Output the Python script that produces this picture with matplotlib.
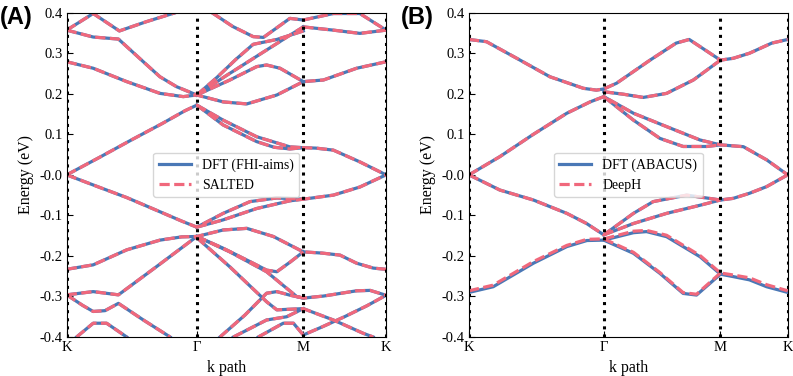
import matplotlib
matplotlib.use("Agg")
import matplotlib.pyplot as plt
import numpy as np

plt.rcParams['font.family'] = ['Liberation Serif', 'DejaVu Serif']

BLUE = '#4a78b6'
RED = '#f0687c'

# k-path labels and positions (fraction of path length)
K_LABELS = ['K', 'Γ', 'M', 'K']
A_TICKS = [0.0, 0.4075, 0.741, 1.0]
B_TICKS = [0.0, 0.423, 0.789, 1.0]

# ---- panel A bands (k, E in eV) : DFT (FHI-aims) / SALTED ----
a_cb1 = [(0, 0), (0.1, 0.042), (0.2, 0.085), (0.3, 0.127), (0.37, 0.158), (0.4075, 0.172),
         (0.49, 0.123), (0.595, 0.082), (0.65, 0.068), (0.699, 0.064), (0.741, 0.067),
         (0.78, 0.066), (0.835, 0.061), (0.918, 0.032), (1, 0)]
a_cb2 = [(0.4075, 0.172), (0.49, 0.135), (0.595, 0.094), (0.699, 0.069), (0.741, 0.067)]
a_vb1 = [(0, 0), (0.1, -0.03), (0.188, -0.056), (0.292, -0.091), (0.36, -0.114), (0.4075, -0.129),
         (0.49, -0.095), (0.574, -0.066), (0.658, -0.057), (0.741, -0.06),
         (0.835, -0.05), (0.918, -0.03), (1, 0)]
a_vb2 = [(0.4075, -0.129), (0.49, -0.111), (0.595, -0.083), (0.699, -0.064), (0.741, -0.06)]
a_vb3 = [(0, -0.233), (0.083, -0.222), (0.188, -0.185), (0.292, -0.161), (0.36, -0.153),
         (0.4075, -0.152), (0.49, -0.136), (0.564, -0.132), (0.647, -0.152), (0.741, -0.19),
         (0.8, -0.193), (0.856, -0.198), (0.908, -0.218), (0.96, -0.23), (1, -0.233)]
a_vb4 = [(0, -0.296), (0.083, -0.288), (0.162, -0.296), (0.282, -0.226), (0.4075, -0.152)]
a_g1 = [(0.4075, -0.152), (0.49, -0.181), (0.574, -0.214), (0.626, -0.235), (0.658, -0.239),
        (0.70, -0.215), (0.741, -0.19)]
a_g2 = [(0.4075, -0.152), (0.511, -0.19), (0.626, -0.239), (0.72, -0.3), (0.741, -0.304),
        (0.804, -0.299), (0.908, -0.286), (0.95, -0.285), (1, -0.297)]
a_g3 = [(0.4075, -0.155), (0.511, -0.227), (0.626, -0.313), (0.658, -0.333), (0.741, -0.33),
        (0.835, -0.358), (0.929, -0.391), (0.96, -0.4)]
a_g4 = [(0.48, -0.4), (0.558, -0.346), (0.626, -0.292), (0.658, -0.288), (0.7, -0.297), (0.741, -0.304)]
a_g5 = [(0.522, -0.4), (0.626, -0.358), (0.689, -0.35), (0.741, -0.33)]
a_g6 = [(0.6, -0.4), (0.678, -0.366), (0.71, -0.366), (0.741, -0.395),
        (0.8, -0.375), (0.87, -0.35), (0.94, -0.323), (1, -0.297)]
a_k4 = [(0, -0.296), (0.05, -0.322), (0.083, -0.337), (0.12, -0.335), (0.162, -0.317),
        (0.24, -0.358), (0.324, -0.4)]
a_k5 = [(0.031, -0.4), (0.083, -0.366), (0.125, -0.366), (0.188, -0.4)]
a_u1 = [(0, 0.279), (0.083, 0.263), (0.188, 0.23), (0.292, 0.201), (0.365, 0.193), (0.4075, 0.197),
        (0.49, 0.18), (0.564, 0.175), (0.658, 0.197), (0.741, 0.23), (0.804, 0.234),
        (0.908, 0.263), (1, 0.279)]
a_u2 = [(0, 0.357), (0.083, 0.34), (0.162, 0.335), (0.24, 0.279), (0.292, 0.242),
        (0.344, 0.2175), (0.4075, 0.197)]
a_u3 = [(0, 0.357), (0.083, 0.398), (0.165, 0.355), (0.25, 0.378), (0.34, 0.4)]
a_u5 = [(0.4075, 0.197), (0.511, 0.234), (0.595, 0.267), (0.626, 0.271), (0.668, 0.263), (0.741, 0.23)]
a_u6 = [(0.4075, 0.197), (0.5, 0.245), (0.6, 0.295), (0.7, 0.345), (0.741, 0.365)]
a_u7 = [(0.4075, 0.197), (0.47, 0.24), (0.53, 0.285), (0.584, 0.322), (0.658, 0.334), (0.741, 0.355)]
a_u8 = [(0.455, 0.4), (0.52, 0.366), (0.584, 0.341), (0.616, 0.339), (0.699, 0.386), (0.741, 0.382)]
a_u9 = [(0.741, 0.365), (0.835, 0.357), (0.918, 0.349), (1, 0.357)]
a_u10 = [(0.741, 0.382), (0.835, 0.398), (0.918, 0.398), (1, 0.357)]

A_BANDS = [a_cb1, a_cb2, a_vb1, a_vb2, a_vb3, a_vb4, a_g1, a_g2, a_g3, a_g4, a_g5, a_g6,
           a_k4, a_k5, a_u1, a_u2, a_u3, a_u5, a_u6, a_u7, a_u8, a_u9, a_u10]

# ---- panel B bands : DFT (ABACUS) ----
b_c1 = [(0, 0.334), (0.055, 0.3285), (0.15, 0.2875), (0.254, 0.242), (0.359, 0.2135), (0.4, 0.209),
        (0.423, 0.212), (0.463, 0.226), (0.568, 0.283), (0.65, 0.325), (0.691, 0.334),
        (0.789, 0.283), (0.829, 0.2875), (0.88, 0.3), (0.95, 0.325), (1, 0.334)]
b_c2 = [(0.423, 0.205), (0.484, 0.199), (0.547, 0.191), (0.62, 0.201), (0.704, 0.234), (0.789, 0.283)]
b_v1 = [(0, 0), (0.097, 0.045), (0.202, 0.1), (0.307, 0.152), (0.38, 0.18), (0.423, 0.193),
        (0.516, 0.152), (0.62, 0.119), (0.725, 0.086), (0.789, 0.074),
        (0.861, 0.0695), (0.934, 0.037), (1, 0)]
b_v2 = [(0.423, 0.193), (0.516, 0.135), (0.599, 0.09), (0.672, 0.07), (0.746, 0.07), (0.789, 0.074)]
b_v3 = [(0, 0), (0.097, -0.0375), (0.202, -0.062), (0.307, -0.095), (0.369, -0.12), (0.423, -0.148),
        (0.516, -0.095), (0.578, -0.066), (0.683, -0.05), (0.789, -0.062),
        (0.829, -0.058), (0.88, -0.0455), (0.934, -0.029), (1, 0)]
b_v4 = [(0.423, -0.148), (0.516, -0.12), (0.62, -0.095), (0.725, -0.075), (0.789, -0.062)]
b_v5 = [(0, -0.29), (0.076, -0.276), (0.202, -0.218), (0.307, -0.177), (0.37, -0.162), (0.423, -0.161),
        (0.516, -0.1427), (0.557, -0.14), (0.62, -0.1525), (0.725, -0.202), (0.789, -0.245),
        (0.829, -0.251), (0.88, -0.259), (0.934, -0.276), (1, -0.29)]
b_v6 = [(0.423, -0.161), (0.516, -0.1935), (0.599, -0.243), (0.672, -0.2925), (0.714, -0.2965),
        (0.789, -0.245)]
B_BANDS = [b_c1, b_c2, b_v1, b_v2, b_v3, b_v4, b_v5, b_v6]

# DeepH bands that sit visibly off the DFT ones
b_v5_deeph = [(0, -0.286), (0.076, -0.272), (0.202, -0.214), (0.307, -0.174), (0.37, -0.159),
              (0.423, -0.158), (0.516, -0.139), (0.557, -0.137), (0.62, -0.149), (0.725, -0.199),
              (0.789, -0.242), (0.829, -0.247), (0.88, -0.254), (0.934, -0.271), (1, -0.286)]
b_v6_deeph = [(0.423, -0.158), (0.516, -0.191), (0.599, -0.241), (0.672, -0.2905), (0.714, -0.2945),
              (0.789, -0.242)]
B_BANDS_ML = [b_c1, b_c2, b_v1, b_v2, b_v3, b_v4, b_v5_deeph, b_v6_deeph]


def draw_panel(ax, ref_bands, ml_bands, ticks, labels):
    for band in ref_bands:
        k, e = np.array(band).T
        ax.plot(k, e, color=BLUE, lw=2.3, solid_joinstyle='round', zorder=2)
    for band in ml_bands:
        k, e = np.array(band).T
        ax.plot(k, e, color=RED, lw=2.3, ls=(0, (3.2, 1.4)), dash_joinstyle='round', zorder=2.5)
    for x in ticks:
        ax.axvline(x, color='k', ls=':', lw=2.2, zorder=3)
    ax.set_xlim(0, 1)
    ax.set_ylim(-0.4, 0.4)
    ax.set_xticks(ticks)
    ax.set_xticklabels(labels)
    ax.set_yticks(np.arange(-0.4, 0.41, 0.1))
    ax.yaxis.set_major_formatter(matplotlib.ticker.FormatStrFormatter('%.1f'))
    ax.tick_params(direction='in', length=4, labelsize=10.5, pad=3)
    ax.set_xlabel('k path', fontsize=11.5, labelpad=4)
    ax.set_ylabel('Energy (eV)', fontsize=11.5, labelpad=4)


fig = plt.figure(figsize=(7.93, 3.76), dpi=100)
ax1 = fig.add_axes([0.0841, 0.1037, 0.4027, 0.8625])
ax2 = fig.add_axes([0.5914, 0.1037, 0.4019, 0.8625])

draw_panel(ax1, A_BANDS, A_BANDS, A_TICKS, K_LABELS)
draw_panel(ax2, B_BANDS, B_BANDS_ML, B_TICKS, K_LABELS)

for ax, names in [(ax1, ('DFT (FHI-aims)', 'SALTED')), (ax2, ('DFT (ABACUS)', 'DeepH'))]:
    h1, = ax.plot([], [], color=BLUE, lw=2.3)
    h2, = ax.plot([], [], color=RED, lw=2.3, ls=(0, (3.2, 1.4)))
    leg = ax.legend([h1, h2], names, loc='center', fontsize=10, handlelength=2.3)
    leg.set_zorder(5)

fig.text(0.0, 0.935, '(A)', fontsize=17, fontweight='bold', family='Liberation Sans')
fig.text(0.506, 0.935, '(B)', fontsize=17, fontweight='bold', family='Liberation Sans')

fig.savefig('out.png', dpi=100)
